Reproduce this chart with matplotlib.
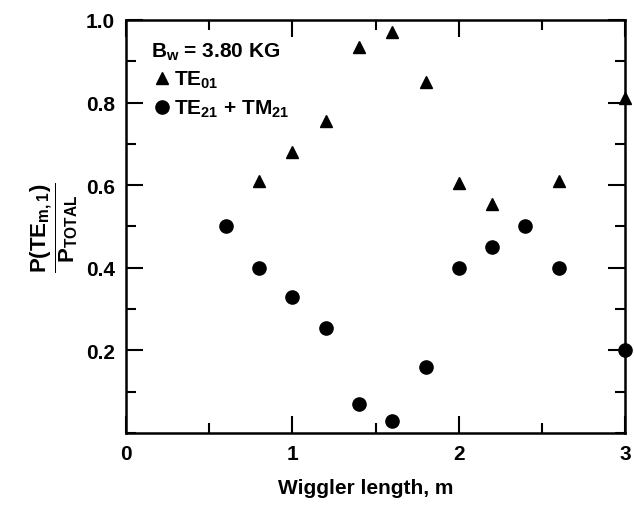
import matplotlib
matplotlib.use('Agg')
import matplotlib.pyplot as plt
from matplotlib.ticker import MultipleLocator

plt.rcParams['font.family'] = ['Liberation Sans', 'DejaVu Sans']
plt.rcParams['font.weight'] = 'bold'
plt.rcParams['mathtext.fontset'] = 'custom'
plt.rcParams['mathtext.rm'] = 'Liberation Sans:bold'
plt.rcParams['mathtext.bf'] = 'Liberation Sans:bold'
plt.rcParams['mathtext.it'] = 'Liberation Sans:bold'
plt.rcParams['mathtext.default'] = 'bf'

# TE01 mode fraction
te01_x = [0.8, 1.0, 1.2, 1.4, 1.6, 1.8, 2.0, 2.2, 2.6, 3.0]
te01_y = [0.61, 0.68, 0.755, 0.935, 0.97, 0.85, 0.605, 0.555, 0.61, 0.81]

# TE21 + TM21 mode fraction
te21_x = [0.6, 0.8, 1.0, 1.2, 1.4, 1.6, 1.8, 2.0, 2.2, 2.4, 2.6, 3.0]
te21_y = [0.50, 0.40, 0.33, 0.255, 0.07, 0.028, 0.16, 0.40, 0.45, 0.50, 0.40, 0.20]

fig = plt.figure(figsize=(6.34, 5.10), dpi=100)
ax = fig.add_axes([0.199, 0.149, 0.787, 0.81])

ax.plot(te01_x, te01_y, '^', color='black', markersize=8, clip_on=False)
ax.plot(te21_x, te21_y, 'o', color='black', markersize=9.5, clip_on=False)

ax.set_xlim(0, 3)
ax.set_ylim(0, 1.0)
ax.xaxis.set_major_locator(MultipleLocator(1))
ax.xaxis.set_minor_locator(MultipleLocator(0.5))
ax.yaxis.set_major_locator(MultipleLocator(0.2))
ax.yaxis.set_minor_locator(MultipleLocator(0.1))
ax.set_yticks([0.2, 0.4, 0.6, 0.8, 1.0])
ax.set_yticklabels(['0.2', '0.4', '0.6', '0.8', '1.0'])
ax.tick_params(which='both', direction='in', top=True, right=True, width=1.5,
               labelsize=15, pad=8)
ax.tick_params(which='major', length=12)
ax.tick_params(which='minor', length=7)
for s in ax.spines.values():
    s.set_linewidth(1.8)

ax.set_xlabel('Wiggler length, m', fontsize=15, fontweight='bold', labelpad=13)
ax.xaxis.set_label_coords(0.48, -0.11)
ax.set_ylabel(r'$\dfrac{P(TE_{m,1})}{P_{TOTAL}}$', fontsize=16, labelpad=4)

# in-plot key
ax.text(0.15, 0.925, r'$B_w$ = 3.80 KG', fontsize=15, va='center', ha='left')
ax.plot([0.215], [0.86], '^', color='black', markersize=8)
ax.text(0.29, 0.855, r'$TE_{01}$', fontsize=15, va='center', ha='left')
ax.plot([0.215], [0.79], 'o', color='black', markersize=9.5)
ax.text(0.29, 0.785, r'$TE_{21}$ + $TM_{21}$', fontsize=15, va='center', ha='left')

fig.savefig('out.png', dpi=100)
